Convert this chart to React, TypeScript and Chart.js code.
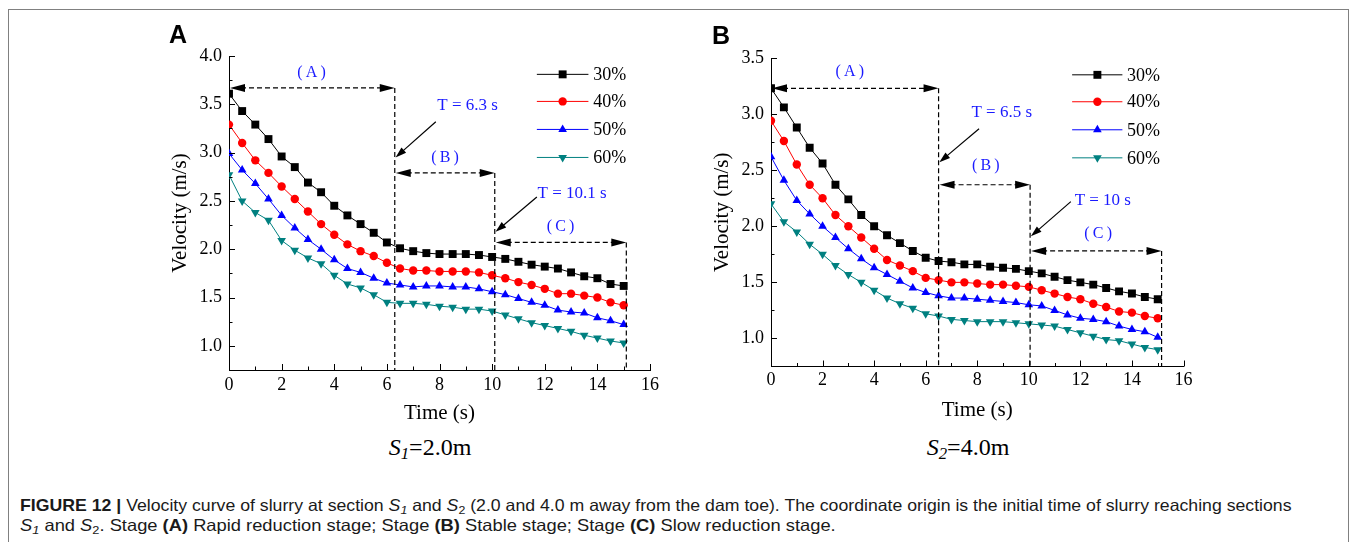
import React, { useEffect, useLayoutEffect, useRef } from 'react';
import { Chart, registerables } from 'chart.js';

Chart.register(...registerables);

// ---------- data ----------
const times = [0, 0.5, 1, 1.5, 2, 2.5, 3, 3.5, 4, 4.5, 5, 5.5, 6, 6.5, 7, 7.5, 8, 8.5, 9, 9.5, 10, 10.5, 11, 11.5, 12, 12.5, 13, 13.5, 14, 14.5, 15];

const seriesNames = ['30%', '40%', '50%', '60%'];

const velA30 = [3.61, 3.43, 3.29, 3.14, 2.96, 2.85, 2.69, 2.59, 2.45, 2.35, 2.26, 2.17, 2.07, 2.01, 1.98, 1.96, 1.95, 1.95, 1.95, 1.94, 1.92, 1.90, 1.87, 1.84, 1.82, 1.80, 1.76, 1.72, 1.70, 1.64, 1.62];
const velA40 = [3.29, 3.10, 2.92, 2.79, 2.65, 2.52, 2.39, 2.26, 2.15, 2.05, 1.98, 1.93, 1.86, 1.80, 1.78, 1.78, 1.77, 1.77, 1.77, 1.76, 1.73, 1.70, 1.66, 1.63, 1.59, 1.54, 1.54, 1.52, 1.50, 1.45, 1.42];
const velA50 = [2.99, 2.82, 2.68, 2.52, 2.35, 2.22, 2.10, 2.00, 1.89, 1.80, 1.76, 1.70, 1.65, 1.63, 1.61, 1.62, 1.62, 1.61, 1.61, 1.59, 1.56, 1.53, 1.49, 1.45, 1.42, 1.37, 1.35, 1.34, 1.29, 1.26, 1.22];
const velA60 = [2.77, 2.50, 2.38, 2.30, 2.09, 1.99, 1.91, 1.85, 1.73, 1.64, 1.60, 1.53, 1.45, 1.44, 1.44, 1.43, 1.41, 1.40, 1.38, 1.38, 1.36, 1.32, 1.28, 1.24, 1.21, 1.18, 1.15, 1.11, 1.08, 1.05, 1.03];

const velB30 = [3.23, 3.06, 2.88, 2.70, 2.56, 2.37, 2.24, 2.10, 2.00, 1.92, 1.85, 1.78, 1.72, 1.69, 1.68, 1.66, 1.66, 1.64, 1.63, 1.62, 1.60, 1.58, 1.55, 1.52, 1.50, 1.48, 1.45, 1.42, 1.40, 1.37, 1.35];
const velB40 = [2.94, 2.76, 2.55, 2.37, 2.25, 2.10, 2.00, 1.90, 1.80, 1.70, 1.65, 1.60, 1.54, 1.52, 1.50, 1.50, 1.49, 1.48, 1.48, 1.47, 1.46, 1.43, 1.40, 1.37, 1.35, 1.31, 1.28, 1.24, 1.23, 1.20, 1.18];
const velB50 = [2.62, 2.41, 2.23, 2.11, 2.00, 1.90, 1.80, 1.71, 1.63, 1.57, 1.51, 1.45, 1.41, 1.38, 1.36, 1.36, 1.35, 1.34, 1.33, 1.32, 1.30, 1.29, 1.25, 1.21, 1.18, 1.17, 1.15, 1.11, 1.08, 1.06, 1.01];
const velB60 = [2.20, 2.04, 1.95, 1.84, 1.75, 1.65, 1.57, 1.50, 1.43, 1.36, 1.31, 1.27, 1.22, 1.20, 1.17, 1.16, 1.15, 1.15, 1.15, 1.14, 1.13, 1.12, 1.11, 1.08, 1.05, 1.02, 0.99, 0.98, 0.95, 0.92, 0.90];

const xTickLabels = [0, 2, 4, 6, 8, 10, 12, 14, 16];
const xMinorTicks = [1, 3, 5, 7, 9, 11, 13, 15];
const yTickLabelsA = [1.0, 1.5, 2.0, 2.5, 3.0, 3.5, 4.0];
const yMinorTicksA = [1.25, 1.75, 2.25, 2.75, 3.25, 3.75];
const yTickLabelsB = [1.0, 1.5, 2.0, 2.5, 3.0, 3.5];
const yMinorTicksB = [1.25, 1.75, 2.25, 2.75, 3.25];

// stage annotations (data coordinates)
const stagesA = [
  { from: 0, to: 6.3, y: 3.67, label: '(\u2009A\u2009)', lx: 3.14, ly: 3.83 },
  { from: 6.3, to: 10.1, y: 2.79, label: '(\u2009B\u2009)', lx: 8.21, ly: 2.95 },
  { from: 10.1, to: 15.1, y: 2.07, label: '(\u2009C\u2009)', lx: 12.6, ly: 2.23 },
];
const markersA = [
  { text: 'T = 6.3 s', tx: 9.07, ty: 3.49, x1: 7.86, y1: 3.32, x2: 6.33, y2: 2.95 },
  { text: 'T = 10.1 s', tx: 13.04, ty: 2.58, x1: 11.7, y1: 2.54, x2: 10.13, y2: 2.18 },
];
const stagesB = [
  { from: 0, to: 6.5, y: 3.23, label: '(\u2009A\u2009)', lx: 3.06, ly: 3.38 },
  { from: 6.5, to: 10.05, y: 2.37, label: '(\u2009B\u2009)', lx: 8.33, ly: 2.54 },
  { from: 10.05, to: 15.15, y: 1.78, label: '(\u2009C\u2009)', lx: 12.69, ly: 1.93 },
];
const markersB = [
  { text: 'T = 6.5 s', tx: 8.95, ty: 3.01, x1: 8.07, y1: 2.87, x2: 6.53, y2: 2.57 },
  { text: 'T = 10 s', tx: 12.87, ty: 2.23, x1: 11.63, y1: 2.22, x2: 10.08, y2: 1.91 },
];

// ---------- styles ----------
const seriesColors = ['#000000', '#ff0000', '#0000ff', '#008080'];
const pointStyles = ['rect', 'circle', 'triangle', 'triangle'];
const pointRotations = [0, 0, 0, 180];
const pointRadii = [5.6, 4.2, 5.0, 5.0];
const SERIF = "'Liberation Serif', 'Times New Roman', serif";
const ANNO_BLUE = '#1a1aff';

type Stage = { from: number; to: number; y: number; label: string; lx: number; ly: number };
type Marker = { text: string; tx: number; ty: number; x1: number; y1: number; x2: number; y2: number };
type Panel = {
  key: string;
  series: number[][];
  yMin: number; yMax: number;
  yTicks: number[]; yMinor: number[];
  stages: Stage[]; markers: Marker[];
  legend: { x1: number; x2: number; xm: number; xt: number; rows: number[] };
  left: number; top: number; w: number; h: number;
  yWidth: number; xHeight: number; padTop: number; padRight: number;
  yTitlePad: number; xTitlePad: number; xTickPad: number;
};

const panelA: Panel = {
  key: 'A',
  series: [velA30, velA40, velA50, velA60],
  yMin: 0.75, yMax: 4.0,
  yTicks: yTickLabelsA, yMinor: yMinorTicksA,
  stages: stagesA, markers: markersA,
  legend: { x1: 11.7, x2: 13.66, xm: 12.68, xt: 13.84, rows: [3.81, 3.53, 3.24, 2.95] },
  left: 160, top: 30, w: 510, h: 400,
  yWidth: 69, xHeight: 60, padTop: 26, padRight: 20,
  yTitlePad: 8, xTitlePad: 4, xTickPad: 4,
};

const panelB: Panel = {
  key: 'B',
  series: [velB30, velB40, velB50, velB60],
  yMin: 0.75, yMax: 3.5,
  yTicks: yTickLabelsB, yMinor: yMinorTicksB,
  stages: stagesB, markers: markersB,
  legend: { x1: 11.68, x2: 13.63, xm: 12.66, xt: 13.81, rows: [3.35, 3.11, 2.86, 2.61] },
  left: 700, top: 30, w: 505, h: 400,
  yWidth: 71, xHeight: 63.5, padTop: 28, padRight: 21.5,
  yTitlePad: 10, xTitlePad: 7, xTickPad: 3,
};

function drawMarker(ctx: CanvasRenderingContext2D, i: number, x: number, y: number) {
  const r = pointRadii[i];
  ctx.fillStyle = seriesColors[i];
  ctx.beginPath();
  if (pointStyles[i] === 'rect') {
    const s = Math.SQRT1_2 * r;
    ctx.rect(x - s, y - s, 2 * s, 2 * s);
  } else if (pointStyles[i] === 'circle') {
    ctx.arc(x, y, r, 0, Math.PI * 2);
  } else {
    const dir = pointRotations[i] === 180 ? -1 : 1;
    ctx.moveTo(x, y - dir * r);
    ctx.lineTo(x + r * 0.866, y + dir * r * 0.5);
    ctx.lineTo(x - r * 0.866, y + dir * r * 0.5);
    ctx.closePath();
  }
  ctx.fill();
}

function arrowHead(ctx: CanvasRenderingContext2D, tx: number, ty: number, ang: number, len: number, hw: number) {
  const c = Math.cos(ang), s = Math.sin(ang);
  ctx.beginPath();
  ctx.moveTo(tx, ty);
  ctx.lineTo(tx - len * c - hw * s, ty - len * s + hw * c);
  ctx.lineTo(tx - len * c + hw * s, ty - len * s - hw * c);
  ctx.closePath();
  ctx.fill();
}

function makeOverlay(p: Panel) {
  return {
    id: 'overlay' + p.key,
    afterDatasetsDraw(chart: any) {
      const { ctx, chartArea: ca, scales } = chart;
      const X = (v: number) => scales.x.getPixelForValue(v);
      const Y = (v: number) => scales.y.getPixelForValue(v);
      ctx.save();
      // inward ticks
      ctx.strokeStyle = '#000';
      ctx.lineWidth = 1;
      const seg = (a: number, b: number, c: number, d: number) => {
        ctx.beginPath(); ctx.moveTo(a, b); ctx.lineTo(c, d); ctx.stroke();
      };
      xTickLabels.forEach((v) => { const px = Math.round(X(v)) + 0.5; seg(px, ca.bottom, px, ca.bottom - 6); });
      xMinorTicks.forEach((v) => { const px = Math.round(X(v)) + 0.5; seg(px, ca.bottom, px, ca.bottom - 3.5); });
      p.yTicks.forEach((v) => { const py = Math.round(Y(v)) + 0.5; seg(ca.left, py, ca.left + 6, py); });
      p.yMinor.forEach((v) => { const py = Math.round(Y(v)) + 0.5; seg(ca.left, py, ca.left + 3.5, py); });

      // stage arrows and dashed verticals
      ctx.fillStyle = '#000';
      p.stages.forEach((st) => {
        const y = Y(st.y), x1 = X(st.from), x2 = X(st.to);
        ctx.strokeStyle = '#000';
        ctx.setLineDash([5, 3]);
        ctx.lineWidth = 1.2;
        seg(x1 + 12, y, x2 - 12, y);
        seg(x2, y, x2, ca.bottom);
        ctx.setLineDash([]);
        arrowHead(ctx, x1 + 1, y, Math.PI, 15, 4);
        arrowHead(ctx, x2, y, 0, 15, 4);
        ctx.fillStyle = ANNO_BLUE;
        ctx.font = `16px ${SERIF}`;
        ctx.textAlign = 'center';
        ctx.textBaseline = 'middle';
        ctx.fillText(st.label, X(st.lx), Y(st.ly));
        ctx.fillStyle = '#000';
      });

      // time markers
      p.markers.forEach((m) => {
        const ax = X(m.x1), ay = Y(m.y1), bx = X(m.x2), by = Y(m.y2);
        const ang = Math.atan2(by - ay, bx - ax);
        ctx.strokeStyle = '#000';
        ctx.lineWidth = 1.2;
        ctx.setLineDash([]);
        seg(ax, ay, bx - 8 * Math.cos(ang), by - 8 * Math.sin(ang));
        ctx.fillStyle = '#000';
        arrowHead(ctx, bx, by, ang, 11, 3.5);
        ctx.fillStyle = ANNO_BLUE;
        ctx.font = `17px ${SERIF}`;
        ctx.textAlign = 'center';
        ctx.textBaseline = 'middle';
        ctx.fillText(m.text, X(m.tx), Y(m.ty));
      });

      // legend
      p.legend.rows.forEach((rv, i) => {
        const y = Y(rv);
        ctx.strokeStyle = seriesColors[i];
        ctx.lineWidth = 1;
        seg(X(p.legend.x1), y, X(p.legend.x2), y);
        drawMarker(ctx, i, X(p.legend.xm), y);
        ctx.fillStyle = '#000';
        ctx.font = `18px ${SERIF}`;
        ctx.textAlign = 'left';
        ctx.textBaseline = 'middle';
        ctx.fillText(seriesNames[i], X(p.legend.xt), y + 1);
      });
      ctx.restore();
    },
  };
}

function buildConfig(p: Panel): any {
  return {
    type: 'line',
    data: {
      datasets: p.series.map((vals, i) => ({
        label: seriesNames[i],
        data: times.map((t, k) => ({ x: t, y: vals[k] })),
        borderColor: seriesColors[i],
        backgroundColor: seriesColors[i],
        borderWidth: 1,
        pointStyle: pointStyles[i],
        pointRotation: pointRotations[i],
        pointRadius: pointRadii[i],
        pointBorderWidth: 0,
        pointBackgroundColor: seriesColors[i],
        pointBorderColor: seriesColors[i],
        tension: 0,
      })),
    },
    options: {
      responsive: false,
      animation: false,
      devicePixelRatio: 1,
      layout: { padding: { left: 0, top: p.padTop, right: p.padRight, bottom: 0 } },
      plugins: { legend: { display: false }, tooltip: { enabled: false } },
      scales: {
        x: {
          type: 'linear', position: 'bottom', min: 0, max: 16,
          afterBuildTicks: (s: any) => { s.ticks = xTickLabels.map((v) => ({ value: v })); },
          afterFit: (s: any) => { s.height = p.xHeight; },
          grid: { display: false, drawTicks: false, tickLength: 0 },
          border: { display: true, color: '#000', width: 1 },
          ticks: { font: { family: SERIF, size: 18 }, color: '#000', padding: p.xTickPad, autoSkip: false, maxRotation: 0 },
          title: { display: true, text: 'Time (s)', font: { family: SERIF, size: 21 }, color: '#000', padding: { top: 0, bottom: p.xTitlePad } },
        },
        y: {
          type: 'linear', position: 'left', min: p.yMin, max: p.yMax,
          afterBuildTicks: (s: any) => { s.ticks = p.yTicks.map((v) => ({ value: v })); },
          afterFit: (s: any) => { s.width = p.yWidth; },
          grid: { display: false, drawTicks: false, tickLength: 0 },
          border: { display: true, color: '#000', width: 1 },
          ticks: { font: { family: SERIF, size: 18 }, color: '#000', padding: 7, autoSkip: false, callback: (v: any) => Number(v).toFixed(1) },
          title: { display: true, text: 'Velocity (m/s)', font: { family: SERIF, size: 21 }, color: '#000', padding: { top: p.yTitlePad, bottom: 0 } },
        },
      },
    },
    plugins: [makeOverlay(p)],
  };
}

function PanelChart({ p }: { p: Panel }) {
  const ref = useRef<HTMLCanvasElement>(null);
  useEffect(() => {
    const chart = new Chart(ref.current as HTMLCanvasElement, buildConfig(p));
    return () => chart.destroy();
  }, [p]);
  return (
    <canvas
      ref={ref}
      width={p.w}
      height={p.h}
      style={{ position: 'absolute', left: p.left, top: p.top, width: p.w, height: p.h }}
    />
  );
}

function FitLine({ top, width, children }: { top: number; width: number; children: React.ReactNode }) {
  const ref = useRef<HTMLDivElement>(null);
  useLayoutEffect(() => {
    const el = ref.current;
    if (!el) return;
    el.style.transform = 'none';
    const w = el.scrollWidth;
    if (w > 0) el.style.transform = `scaleX(${width / w})`;
  }, [width]);
  return (
    <div
      ref={ref}
      style={{
        position: 'absolute', left: 20, top, whiteSpace: 'nowrap', transformOrigin: '0 0',
        fontFamily: "'Liberation Sans Narrow', 'Liberation Sans', Arial, sans-serif",
        fontSize: 16.5, lineHeight: '20px', color: '#1a1a1a', display: 'inline-block',
      }}
    >
      {children}
    </div>
  );
}

const subStyle: React.CSSProperties = { fontSize: '0.7em', verticalAlign: '-0.25em', lineHeight: 0 };

function SubTitle({ cx, sub, rest }: { cx: number; sub: string; rest: string }) {
  return (
    <div style={{ position: 'absolute', left: cx - 100, width: 200, top: 435, textAlign: 'center', fontFamily: SERIF, fontSize: 24, lineHeight: '24px', color: '#000', whiteSpace: 'nowrap' }}>
      <i>S</i><i style={subStyle}>{sub}</i>{rest}
    </div>
  );
}

export default function App() {
  return (
    <div style={{ position: 'absolute', left: 0, top: 0, width: 1354, height: 542, overflow: 'hidden', background: '#fff' }}>
      <div style={{ position: 'absolute', left: 8, top: 9, width: 1341, height: 620, border: '1px solid #808080', boxSizing: 'border-box' }} />
      <PanelChart p={panelA} />
      <PanelChart p={panelB} />
      <div style={{ position: 'absolute', left: 169, top: 22, fontFamily: "'Liberation Sans', Arial, sans-serif", fontWeight: 'bold', fontSize: 25, lineHeight: '25px', color: '#000' }}>A</div>
      <div style={{ position: 'absolute', left: 712, top: 23, fontFamily: "'Liberation Sans', Arial, sans-serif", fontWeight: 'bold', fontSize: 25, lineHeight: '25px', color: '#000' }}>B</div>
      <SubTitle cx={430} sub="1" rest="=2.0m" />
      <SubTitle cx={968} sub="2" rest="=4.0m" />
      <FitLine top={495} width={1271}>
        <b>FIGURE 12 |</b> Velocity curve of slurry at section <i>S</i><i style={subStyle}>1</i> and <i>S</i><span style={subStyle}>2</span> (2.0 and 4.0 m away from the dam toe). The coordinate origin is the initial time of slurry reaching sections
      </FitLine>
      <FitLine top={515} width={816}>
        <i>S</i><i style={subStyle}>1</i> and <i>S</i><span style={subStyle}>2</span>. Stage <b>(A)</b> Rapid reduction stage; Stage <b>(B)</b> Stable stage; Stage <b>(C)</b> Slow reduction stage.
      </FitLine>
    </div>
  );
}
